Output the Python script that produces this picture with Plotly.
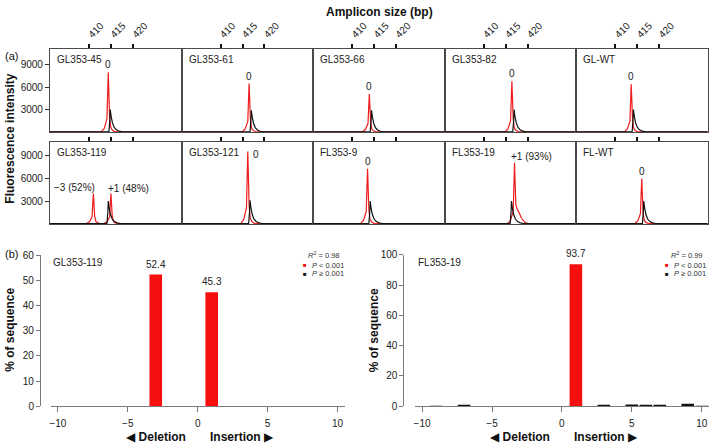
import plotly.graph_objects as go

W, H = 709, 448
FONT = "Liberation Sans, Arial, DejaVu Sans, sans-serif"

# ---------------- DATA ----------------
panel_names = ["GL353-45", "GL353-61", "GL353-66", "GL353-82", "GL-WT",
               "GL353-119", "GL353-121", "FL353-9", "FL353-19", "FL-WT"]

size_ticks = [410, 415, 420]
intensity_ticks = [3000, 6000, 9000]

red_x = [
    [401, 412.8, 413.5, 413.85, 414.1, 414.28, 414.4, 414.52, 414.7, 414.95, 415.3, 415.9, 431],
    [401, 414.9, 415.6, 415.95, 416.2, 416.38, 416.5, 416.62, 416.8, 417.05, 417.4, 418.0, 431],
    [401, 412.3, 413.0, 413.35, 413.6, 413.78, 413.9, 414.02, 414.2, 414.45, 414.8, 415.4, 431],
    [401, 414.8, 415.5, 415.85, 416.1, 416.28, 416.4, 416.52, 416.7, 416.95, 417.3, 417.9, 431],
    [401, 412.0, 412.7, 413.05, 413.3, 413.48, 413.6, 413.72, 413.9, 414.15, 414.5, 415.1, 431],
    [401, 409.4, 410.1, 410.45, 410.7, 410.88, 411.0, 411.12, 411.3, 411.55, 411.9, 412.5,
     413.4, 414.1, 414.45, 414.7, 414.88, 415.0, 415.12, 415.3, 415.55, 415.9, 416.5, 431],
    [401, 414.6, 415.3, 415.65, 415.9, 416.08, 416.2, 416.32, 416.5, 416.75, 417.1, 417.7, 431],
    [401, 411.9, 412.6, 412.95, 413.2, 413.38, 413.5, 413.62, 413.8, 414.05, 414.4, 415.0, 431],
    [401, 415.3, 416.0, 416.4, 416.7, 416.88, 417.0, 417.12, 417.3, 417.6, 418.0, 418.6, 419.3, 420.0, 431],
    [401, 414.4, 415.1, 415.45, 415.7, 415.88, 416.0, 416.12, 416.3, 416.55, 416.9, 417.5, 431],
]
red_y = [
    [0, 0, 480, 1200, 1760, 5600, 8000, 5600, 2000, 640, 240, 0, 0],
    [0, 0, 390, 975, 1430, 4550, 6500, 4550, 1625, 520, 195, 0, 0],
    [0, 0, 306, 765, 1122, 3570, 5100, 3570, 1275, 408, 153, 0, 0],
    [0, 0, 408, 1020, 1496, 4760, 6800, 4760, 1700, 544, 204, 0, 0],
    [0, 0, 384, 960, 1408, 4480, 6400, 4480, 1600, 512, 192, 0, 0],
    [0, 0, 240, 600, 880, 2800, 4000, 2800, 1000, 320, 120, 0,
     0, 240, 600, 880, 2800, 4000, 2800, 1000, 320, 120, 0, 0],
    [0, 0, 576, 1440, 2112, 6720, 9600, 6720, 2400, 768, 288, 0, 0],
    [0, 0, 438, 1095, 1606, 5110, 7300, 5110, 1825, 584, 219, 0, 0],
    [0, 0, 300, 900, 1600, 5600, 8100, 5600, 2600, 1900, 1500, 700, 200, 0, 0],
    [0, 0, 360, 900, 1320, 4200, 6000, 4200, 1500, 480, 180, 0, 0],
]
black_x = [
    [401, 414.55, 414.75, 414.85, 415.05, 415.35, 415.75, 416.25, 416.85, 417.65, 431],
    [401, 416.7, 416.9, 417.0, 417.2, 417.5, 417.9, 418.4, 419.0, 419.8, 431],
    [401, 414.1, 414.3, 414.4, 414.6, 414.9, 415.3, 415.8, 416.4, 417.2, 431],
    [401, 416.6, 416.8, 416.9, 417.1, 417.4, 417.8, 418.3, 418.9, 419.7, 431],
    [401, 413.8, 414.0, 414.1, 414.3, 414.6, 415.0, 415.5, 416.1, 416.9, 431],
    [401, 414.1, 414.3, 414.4, 414.6, 414.9, 415.3, 415.8, 416.4, 417.2, 431],
    [401, 416.4, 416.6, 416.7, 416.9, 417.2, 417.6, 418.1, 418.7, 419.5, 431],
    [401, 413.8, 414.0, 414.1, 414.3, 414.6, 415.0, 415.5, 416.1, 416.9, 431],
    [401, 416.0, 416.2, 416.3, 416.5, 416.8, 417.2, 417.7, 418.3, 419.1, 431],
    [401, 416.15, 416.35, 416.45, 416.65, 416.95, 417.35, 417.85, 418.45, 419.25, 431],
]
black_y = [
    [0, 0, 1500, 3000, 2100, 1200, 600, 270, 90, 0, 0],
    [0, 0, 1450, 2900, 2030, 1160, 580, 260, 87, 0, 0],
    [0, 0, 1450, 2900, 2030, 1160, 580, 260, 87, 0, 0],
    [0, 0, 1500, 3000, 2100, 1200, 600, 270, 90, 0, 0],
    [0, 0, 1500, 3000, 2100, 1200, 600, 270, 90, 0, 0],
    [0, 0, 1500, 3000, 2100, 1200, 600, 270, 90, 0, 0],
    [0, 0, 1550, 3100, 2170, 1240, 620, 280, 93, 0, 0],
    [0, 0, 1500, 3000, 2100, 1200, 600, 270, 90, 0, 0],
    [0, 0, 1500, 3000, 2100, 1200, 600, 270, 90, 0, 0],
    [0, 0, 1500, 3000, 2100, 1200, 600, 270, 90, 0, 0],
]

# peak labels
peak_label_panel = [0, 1, 2, 3, 4, 5, 5, 6, 7, 8, 9]
peak_label_text = ["0", "0", "0", "0", "0", "\u22123 (52%)", "+1 (48%)", "0", "0", "+1 (93%)", "0"]
peak_label_x = [414.4, 416.5, 413.9, 416.4, 413.6, 406.8, 418.9, 416.9, 413.5, 420.8, 416.0]
peak_label_y = [8000, 6500, 5100, 6800, 6400, 4790, 4660, 9260, 7300, 8965, 6000]
peak_label_mode = ["above", "above", "above", "above", "above", "mid", "mid", "right", "above", "mid", "above"]

# panel (b)
indel_ticks = [-10, -5, 0, 5, 10]
indel_ticktext = ["\u221210", "\u22125", "0", "5", "10"]

gl119_indel = [-3, 1]
gl119_pct = [52.4, 45.3]
gl119_sig = [True, True]
gl119_r2 = "0.98"

fl19_indel = [-9, -7, 1, 3, 5, 6, 7, 9, 10]
fl19_pct = [0.3, 0.4, 93.7, 0.4, 1.2, 0.5, 0.6, 1.6, 0.3]
fl19_sig = [False, False, True, False, False, False, False, False, False]
fl19_r2 = "0.99"

# ---------------- LAYOUT HELPERS ----------------
def X(px):
    return px / W

def Y(py):
    return 1 - py / H

RED = "#ee1c1c"
BLACK = "#111111"
BOX = "#4a4a4a"

col_edges = [49, 180.8, 312.6, 444.4, 576.2, 708]
row_domains = [(44, 129.5), (139, 223.5)]
row_ranges = [[-60, 11150], [-60, 10920]]

fig = go.Figure()
layout = dict(
    width=W, height=H, autosize=False,
    margin=dict(l=0, r=0, t=0, b=0),
    paper_bgcolor="white", plot_bgcolor="white",
    showlegend=False,
    font=dict(family=FONT, size=10, color="#222"),
)
annotations = []

for i in range(10):
    r, c = divmod(i, 5)
    n = i + 1
    xa = "xaxis" if n == 1 else f"xaxis{n}"
    ya = "yaxis" if n == 1 else f"yaxis{n}"
    xr = "x" if n == 1 else f"x{n}"
    yr = "y" if n == 1 else f"y{n}"
    layout[xa] = dict(
        domain=[X(col_edges[c]), X(col_edges[c + 1])], range=[401.1, 431.1],
        anchor=yr, side="top", showline=True, mirror=True, linecolor=BOX, linewidth=1,
        ticks="outside", ticklen=4, tickwidth=1.5, tickcolor="#111",
        tickvals=size_ticks, showticklabels=(r == 0), tickangle=-45,
        tickfont=dict(size=10, color="#222"),
        showgrid=False, zeroline=False, fixedrange=True,
    )
    y0, y1 = row_domains[r]
    layout[ya] = dict(
        domain=[Y(y1), Y(y0)], range=row_ranges[r], anchor=xr,
        showline=True, mirror=True, linecolor=BOX, linewidth=1,
        ticks="outside" if c == 0 else "", ticklen=4, tickcolor="#333",
        tickvals=intensity_ticks, showticklabels=(c == 0),
        tickfont=dict(size=10, color="#222"),
        showgrid=False, zeroline=False, fixedrange=True,
    )
    fig.add_trace(go.Scatter(x=red_x[i], y=red_y[i], xaxis=xr, yaxis=yr, mode="lines",
                             line=dict(color=RED, width=1.2), hoverinfo="skip"))
    fig.add_trace(go.Scatter(x=black_x[i], y=black_y[i], xaxis=xr, yaxis=yr, mode="lines",
                             line=dict(color=BLACK, width=1.2), hoverinfo="skip"))
    annotations.append(dict(
        text=panel_names[i], x=X(col_edges[c] + 5), y=Y(y0 + 11), xref="paper", yref="paper",
        xanchor="left", yanchor="middle", showarrow=False, font=dict(size=10, color="#222")))

for k in range(len(peak_label_text)):
    n = peak_label_panel[k] + 1
    xr = "x" if n == 1 else f"x{n}"
    yr = "y" if n == 1 else f"y{n}"
    mode = peak_label_mode[k]
    a = dict(text=peak_label_text[k], x=peak_label_x[k], y=peak_label_y[k], xref=xr, yref=yr,
             showarrow=False, font=dict(size=10, color="#222"))
    if mode == "above":
        a.update(xanchor="center", yanchor="bottom", yshift=0)
    elif mode == "right":
        a.update(xanchor="left", yanchor="middle")
    else:
        a.update(xanchor="center", yanchor="middle")
    annotations.append(a)

# ---------------- PANEL (b) ----------------
AX_B = "#7a7a7a"
bpanels = [
    dict(n=11, xdom=(50, 344), ydom=(255.7, 410.3), yrange=[0, 60], dtick=10, ypos=39,
         xs=gl119_indel, ys=gl119_pct, sig=gl119_sig, name="GL353-119", r2=gl119_r2,
         leg_x=341, sq_x=304, lab_x=309, ytitle_x=9, del_r=187, ins_l=207),
    dict(n=12, xdom=(414.7, 708.7), ydom=(255, 410.3), yrange=[0, 100], dtick=20, ypos=403,
         xs=fl19_indel, ys=fl19_pct, sig=fl19_sig, name="FL353-19", r2=fl19_r2,
         leg_x=705, sq_x=666.7, lab_x=671.5, ytitle_x=373, del_r=552, ins_l=572),
]
for bp in bpanels:
    n = bp["n"]
    xr, yr = f"x{n}", f"y{n}"
    layout[f"xaxis{n}"] = dict(
        domain=[X(bp["xdom"][0]), X(bp["xdom"][1])], range=[-10.5, 10.5], anchor=yr,
        showline=True, linecolor=AX_B, linewidth=1, ticks="outside", ticklen=5,
        tickcolor=AX_B, tickvals=indel_ticks, ticktext=indel_ticktext, ticklabelstandoff=3,
        tickfont=dict(size=10, color="#222"), showgrid=False, zeroline=False, fixedrange=True)
    layout[f"yaxis{n}"] = dict(
        domain=[Y(bp["ydom"][1]), Y(bp["ydom"][0])], range=bp["yrange"], anchor="free",
        position=X(bp["ypos"]), showline=True, linecolor=AX_B, linewidth=1,
        ticks="outside", ticklen=4, tickcolor=AX_B, dtick=bp["dtick"], tick0=0,
        tickfont=dict(size=10, color="#222"), showgrid=False, zeroline=False, fixedrange=True)
    colors = [("#f50f0f" if s else "#111111") for s in bp["sig"]]
    fig.add_trace(go.Bar(x=bp["xs"], y=bp["ys"], xaxis=xr, yaxis=yr, width=0.9,
                         marker=dict(color=colors, line=dict(width=0)), hoverinfo="skip"))
    for xv, yv, s in zip(bp["xs"], bp["ys"], bp["sig"]):
        if s:
            annotations.append(dict(text=f"{yv:.1f}", x=xv, y=yv, xref=xr, yref=yr,
                                    xanchor="center", yanchor="bottom", yshift=3,
                                    showarrow=False, font=dict(size=10, color="#222")))
    annotations += [
        dict(text=bp["name"], x=X(bp["xdom"][0] + 0.5), y=Y(263), xref="paper", yref="paper",
             xanchor="left", yanchor="middle", showarrow=False, font=dict(size=10, color="#222")),
        dict(text=f"<i>R</i><sup>2</sup> = {bp['r2']}", x=X(bp["leg_x"]), y=Y(255), xref="paper",
             yref="paper", xanchor="right", yanchor="middle", showarrow=False,
             font=dict(size=7.5, color="#333")),
        dict(text="■", x=X(bp["sq_x"]), y=Y(265.8), xref="paper", yref="paper",
             xanchor="center", yanchor="middle", showarrow=False, font=dict(size=6, color="#f50f0f")),
        dict(text="<i>P</i> < 0.001", x=X(bp["lab_x"]), y=Y(265.8), xref="paper", yref="paper",
             xanchor="left", yanchor="middle", showarrow=False, font=dict(size=7.5, color="#333")),
        dict(text="■", x=X(bp["sq_x"]), y=Y(274.5), xref="paper", yref="paper",
             xanchor="center", yanchor="middle", showarrow=False, font=dict(size=6, color="#111")),
        dict(text="<i>P</i> ≥ 0.001", x=X(bp["lab_x"]), y=Y(274.5), xref="paper", yref="paper",
             xanchor="left", yanchor="middle", showarrow=False, font=dict(size=7.5, color="#333")),
        dict(text="<b>% of sequence</b>", x=X(bp["ytitle_x"]), y=Y(332), xref="paper", yref="paper",
             xanchor="center", yanchor="middle", textangle=-90, showarrow=False,
             font=dict(size=12, color="#111")),
        dict(text="<b>◀ Deletion</b>", x=X(bp["del_r"]), y=Y(441.5), xref="paper", yref="paper",
             xanchor="right", yanchor="middle", showarrow=False, font=dict(size=12, color="#111")),
        dict(text="<b>Insertion ▶</b>", x=X(bp["ins_l"]), y=Y(441.5), xref="paper", yref="paper",
             xanchor="left", yanchor="middle", showarrow=False, font=dict(size=12, color="#111")),
    ]

# global texts
annotations += [
    dict(text="<b>Amplicon size (bp)</b>", x=X(379), y=Y(6.5), xref="paper", yref="paper",
         xanchor="center", yanchor="middle", showarrow=False, font=dict(size=12, color="#111")),
    dict(text="<b>Fluorescence intensity</b>", x=X(9), y=Y(136), xref="paper", yref="paper",
         xanchor="center", yanchor="middle", textangle=-90, showarrow=False,
         font=dict(size=12, color="#111")),
    dict(text="(a)", x=X(2), y=Y(51.5), xref="paper", yref="paper", xanchor="left",
         yanchor="middle", showarrow=False, font=dict(size=11, color="#111")),
    dict(text="(b)", x=X(2), y=Y(254), xref="paper", yref="paper", xanchor="left",
         yanchor="middle", showarrow=False, font=dict(size=11, color="#111")),
]

layout["annotations"] = annotations
fig.update_layout(**layout)
fig.write_html(
    "out.html",
    config={"displayModeBar": False},
    post_script="document.body.style.margin='0';document.body.style.overflow='hidden';",
)
